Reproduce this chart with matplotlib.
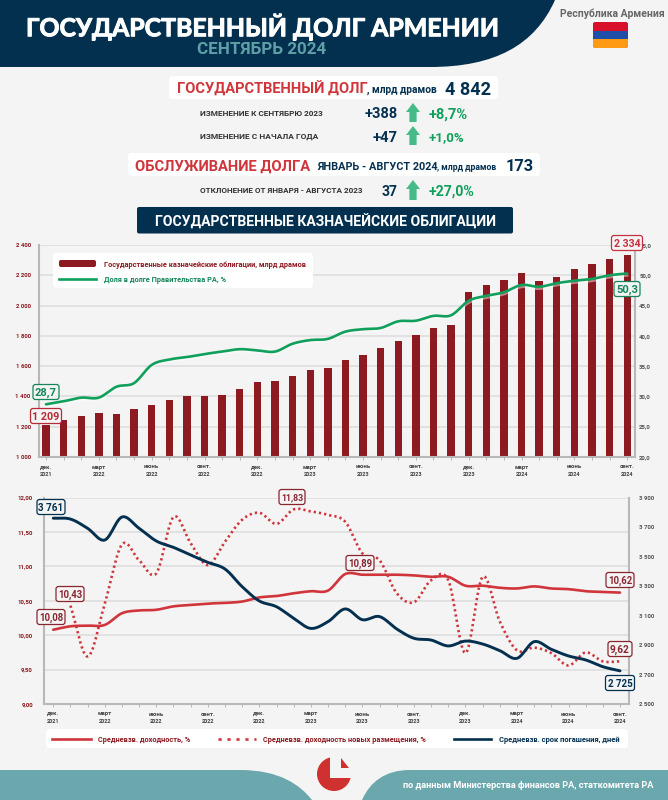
import numpy as np
import matplotlib
matplotlib.use('Agg')
import matplotlib.pyplot as plt
import matplotlib.patheffects as pe
from matplotlib.patches import FancyBboxPatch, Polygon, Rectangle, PathPatch, Circle
from matplotlib.path import Path
from matplotlib.textpath import TextPath
from matplotlib.font_manager import FontProperties, findfont

# ---------- data ----------
tick_years = ['2021', '2022', '2022', '2022', '2022', '2023', '2023', '2023', '2023', '2024', '2024', '2024']
tick_names = ['дек.', 'март', 'июнь', 'сент.', 'дек.', 'март', 'июнь', 'сент.', 'дек.', 'март', 'июнь', 'сент.']
bonds = [1209, 1242, 1271, 1289, 1282, 1315, 1346, 1379, 1401, 1406, 1412, 1450, 1492, 1500, 1538, 1575, 1591,
         1639, 1672, 1723, 1769, 1807, 1849, 1871, 2089, 2138, 2168, 2212, 2160, 2189, 2239, 2274, 2305, 2334]
share = [28.7, 29.2, 29.8, 29.8, 31.6, 32.2, 35.2, 36.1, 36.5, 37.0, 37.4, 37.8, 37.6, 37.4, 38.7, 39.3, 39.5,
         40.7, 41.1, 41.3, 42.4, 42.5, 43.3, 43.4, 45.8, 46.6, 47.2, 48.4, 48.1, 48.7, 49.1, 49.4, 50.0, 50.3]
yield_avg = [10.08, 10.13, 10.14, 10.15, 10.32, 10.36, 10.37, 10.42, 10.44, 10.46, 10.47, 10.49, 10.55, 10.57, 10.61,
             10.64, 10.65, 10.89, 10.88, 10.88, 10.88, 10.87, 10.85, 10.85, 10.72, 10.72, 10.69, 10.68, 10.71, 10.68,
             10.67, 10.64, 10.63, 10.62]
yield_new = [10.43, 9.69, 10.46, 11.32, 11.09, 10.90, 11.72, 11.34, 11.02, 11.36, 11.68, 11.78, 11.62, 11.83,
             11.80, 11.75, 11.65, 11.19, 11.09, 10.61, 10.48, 10.80, 10.80, 9.74, 10.85, 10.20, 9.78, 9.82, 9.74,
             9.56, 9.75, 9.62, 9.62]
maturity = [3761, 3755, 3692, 3613, 3769, 3692, 3606, 3563, 3511, 3461, 3416, 3296, 3199, 3160, 3081, 3013, 3059,
            3145, 3072, 3093, 3009, 2946, 2934, 2894, 2927, 2907, 2862, 2810, 2923, 2871, 2826, 2799, 2753, 2725]
left1 = ['1 000', '1 200', '1 400', '1 600', '1 800', '2 000', '2 200', '2 400']
right1 = ['20,0', '25,0', '30,0', '35,0', '40,0', '45,0', '50,0', '55,0']
left2 = ['9,00', '9,50', '10,00', '10,50', '11,00', '11,50', '12,00']
right2 = ['2 500', '2 700', '2 900', '3 100', '3 300', '3 500', '3 700', '3 900']

# ---------- style ----------
W, H = 668, 800
BG = '#f4f4f4'; NAVY = '#04304f'; RED = '#d0353b'; DRED = '#8c1a20'; GREEN = '#10a05c'
TEAL = '#6aa8ae'; ARROW = '#45bb87'; GRID = '#dcdcdc'; SPINE = '#b8b8b8'
FONT = 'Roboto'
try:
    findfont(FontProperties(family='Liberation Sans Narrow', weight='bold'), fallback_to_default=False)
    NARROW = 'Liberation Sans Narrow'
except Exception:
    NARROW = FONT
plt.rcParams['font.family'] = [FONT, 'DejaVu Sans']

fig = plt.figure(figsize=(W / 100, H / 100), dpi=100, facecolor=BG)


def place(x0, y0, x1, y1):
    return [x0 / W, 1 - y1 / H, (x1 - x0) / W, (y1 - y0) / H]


def smooth(x, y, n=14):
    x = np.asarray(x, float); y = np.asarray(y, float)
    px = np.r_[2 * x[0] - x[1], x, 2 * x[-1] - x[-2]]
    py = np.r_[2 * y[0] - y[1], y, 2 * y[-1] - y[-2]]
    t = np.linspace(0, 1, n, endpoint=False)[:, None]
    outx, outy = [], []
    for i in range(1, len(px) - 2):
        for p, out in ((px, outx), (py, outy)):
            a, b, c, d = p[i - 1], p[i], p[i + 1], p[i + 2]
            out.append((0.5 * (2 * b + (c - a) * t + (2 * a - 5 * b + 4 * c - d) * t ** 2
                               + (3 * b - a - 3 * c + d) * t ** 3)).ravel())
    return np.r_[np.concatenate(outx), x[-1]], np.r_[np.concatenate(outy), y[-1]]


def style_axes(ax, labels_left, lcolor):
    ax.patch.set_visible(False)
    ax.spines['top'].set_visible(False)
    for s in ('left', 'right', 'bottom'):
        ax.spines[s].set_color(SPINE); ax.spines[s].set_linewidth(1.5)
    ax.grid(axis='y', color=GRID, lw=1.1, zorder=0)
    ax.set_axisbelow(True)
    ax.tick_params(axis='y', length=0, labelsize=4.3, labelcolor=lcolor, pad=6)
    ax.set_yticklabels(labels_left, fontweight='bold')
    ax.set_xticks(range(34))
    ax.set_xticklabels([])
    ax.tick_params(axis='x', length=2, width=.7, color=SPINE)


# ---------- chart 1 ----------
x = np.arange(34)
ax1 = fig.add_axes(place(39, 245, 635, 457))
ax1.set_xlim(-0.397, 33.44)
ax1.set_ylim(1000, 2400)
ax1.set_yticks(np.arange(1000, 2401, 200))
style_axes(ax1, left1, DRED)
ax1.bar(x, bonds, width=0.42, color=DRED, zorder=2)
ax1r = ax1.twinx()
ax1r.set_ylim(20, 55)
ax1r.set_yticks(np.arange(20, 56, 5))
ax1r.set_yticklabels(right1, fontweight='bold')
ax1r.tick_params(axis='y', length=0, labelsize=4.3, labelcolor='#555555', pad=3)
for s in ax1r.spines.values():
    s.set_visible(False)
sx, sy = smooth(x, share)
ax1r.plot(sx, np.array(sy) - 0.35, color='#ffffff', alpha=.45, lw=1.6, zorder=3)
ax1r.plot(sx, sy, color=GREEN, lw=1.9, solid_capstyle='round', zorder=4)

# ---------- chart 2 ----------
ax2 = fig.add_axes(place(44, 497.7, 629.3, 704))
ax2.set_xlim(-0.54, 33.54)
ax2.set_ylim(9, 12)
ax2.set_yticks(np.arange(9, 12.01, .5))
style_axes(ax2, left2, DRED)
ax2.tick_params(axis='y', pad=8)
ax2.spines['right'].set_visible(False)
ax2r = ax2.twinx()
ax2r.set_ylim(2500, 3900)
ax2r.set_yticks(np.arange(2500, 3901, 200))
ax2r.set_yticklabels(right2, fontweight='bold')
ax2r.tick_params(axis='y', length=0, labelsize=4.3, labelcolor='#555555', pad=7)
for k, s in ax2r.spines.items():
    s.set_visible(k == 'right')
    s.set_color(SPINE); s.set_linewidth(1.5)
ax2.plot(*smooth(x, yield_avg), color=RED, lw=1.9, zorder=3, solid_capstyle='round')
ax2.plot(*smooth(x[1:], yield_new), color=RED, lw=1.9, ls=(0, (.85, 1.15)), zorder=3)
ax2r.plot(*smooth(x, maturity), color=NAVY, lw=2.1, zorder=4, solid_capstyle='round')

# ---------- overlay, in pixels ----------
ov = fig.add_axes([0, 0, 1, 1], zorder=20)
ov.set_xlim(0, W); ov.set_ylim(H, 0); ov.axis('off')


def fit(x0, x1, yc, s, color, weight='bold', family=FONT, ha='left', z=6, heavy=0):
    fp = FontProperties(family=family, weight=weight)
    w = TextPath((0, 0), s, size=10, prop=fp).get_extents().width * 100 / 72
    size = 10 * (x1 - x0) / w
    xp = x0 if ha == 'left' else (x0 + x1) / 2
    t = ov.text(xp, yc, s, color=color, fontsize=size, fontweight=weight, family=family, ha=ha,
                va='center_baseline', zorder=z)
    if heavy:
        t.set_path_effects([pe.withStroke(linewidth=heavy, foreground=color)])


def rbox(x0, y0, x1, y1, fc, ec='none', r=3, lw=0, z=2):
    p = FancyBboxPatch((x0, y0), x1 - x0, y1 - y0, boxstyle=f'round,pad=0,rounding_size={r}',
                       fc=fc, ec=ec, lw=lw, zorder=z)
    ov.add_patch(p)
    return p


def tag(xc, yc, s, color, w):
    rbox(xc - w / 2, yc - 7.5, xc + w / 2, yc + 7.5, BG, ec=color, r=2.5, lw=.9, z=8)
    fit(xc - w / 2 + 2.5, xc + w / 2 - 2.5, yc, s, color, family=FONT, ha='center', z=9)


def arrow(xc, y0, y1):
    ov.add_patch(Polygon([(xc, y0), (xc + 7, y0 + 9), (xc + 3.6, y0 + 9), (xc + 3.6, y1), (xc - 3.6, y1),
                          (xc - 3.6, y0 + 9), (xc - 7, y0 + 9)], closed=True, fc=ARROW, ec='none', zorder=4))


# header
hp = Path([(0, 0), (555, 0), (535, 45), (495, 67), (430, 67), (0, 67), (0, 0)],
          [Path.MOVETO, Path.LINETO, Path.CURVE4, Path.CURVE4, Path.CURVE4, Path.LINETO, Path.CLOSEPOLY])
ov.add_patch(PathPatch(hp, fc=NAVY, ec='none', zorder=1))
fit(26, 495, 25, 'ГОСУДАРСТВЕННЫЙ ДОЛГ АРМЕНИИ', 'white', family='Lato', weight='bold', heavy=.7)
fit(197, 325, 47.5, 'СЕНТЯБРЬ 2024', '#5f9fa8')
fit(560, 663, 12.5, 'Республика Армения', '#666666')
flag = rbox(593, 22, 628, 48, '#1f4fa8', r=2.5)
for y0, col in ((22, '#d9102a'), (39.3, '#ff9a14')):
    stripe = Rectangle((593, y0), 35, 8.7, fc=col, ec='none', zorder=3)
    ov.add_patch(stripe)
    stripe.set_clip_path(flag)

# summary
rbox(169, 76, 498, 99, 'white')
fit(177, 366, 88, 'ГОСУДАРСТВЕННЫЙ ДОЛГ', RED)
fit(367, 436, 89, ', млрд драмов', NAVY, family=NARROW)
fit(445, 490, 88, '4 842', NAVY)
fit(200, 324, 113, 'ИЗМЕНЕНИЕ К СЕНТЯБРЮ 2023', '#333333', family=NARROW)
fit(365, 397, 113, '+388', NAVY)
arrow(413, 103, 122)
fit(429, 467, 113, '+8,7%', GREEN)
fit(200, 319, 136, 'ИЗМЕНЕНИЕ С НАЧАЛА ГОДА', '#333333', family=NARROW)
fit(373, 397, 136, '+47', NAVY)
arrow(413, 126, 145)
fit(429, 464, 136, '+1,0%', GREEN)
rbox(128, 153, 540, 176, 'white')
fit(135, 310, 165, 'ОБСЛУЖИВАНИЕ ДОЛГА', RED)
fit(317, 437, 166, 'ЯНВАРЬ - АВГУСТ 2024', NAVY, family=NARROW)
fit(437, 496, 167, ', млрд драмов', NAVY, family=NARROW)
fit(506, 532, 165, '173', NAVY)
fit(200, 363, 190, 'ОТКЛОНЕНИЕ ОТ ЯНВАРЯ - АВГУСТА 2023', '#333333', family=NARROW)
fit(382, 397, 190, '37', NAVY)
arrow(413, 180, 200)
fit(429, 474, 190, '+27,0%', GREEN)
rbox(137, 207, 513, 233.5, NAVY, r=2)
fit(155, 495, 220.5, 'ГОСУДАРСТВЕННЫЕ КАЗНАЧЕЙСКИЕ ОБЛИГАЦИИ', 'white')

# x tick labels
for k, (nm, yr) in enumerate(zip(tick_names, tick_years)):
    px1 = 46 + 17.615 * 3 * k
    px2 = 53.3 + 17.17 * 3 * k
    ov.text(px1, 467, nm, fontsize=4.3, color='#444444', fontweight='bold', ha='center', va='center')
    ov.text(px1, 474, yr, fontsize=4.0, color='#444444', fontweight='bold', ha='center', va='center')
    ov.text(px2, 714, nm, fontsize=4.3, color='#444444', fontweight='bold', ha='center', va='center')
    ov.text(px2, 721.5, yr, fontsize=4.0, color='#444444', fontweight='bold', ha='center', va='center')

# value tags
tag(46, 392, '28,7', '#12875a', 26)
tag(46, 416, '1 209', '#b52b38', 31)
tag(627, 243, '2 334', '#c8323f', 31)
tag(627, 289, '50,3', '#12875a', 26)
tag(51, 507, '3 761', NAVY, 28)
tag(70, 594, '10,43', '#8a2530', 28)
tag(51, 617, '10,08', '#8a2530', 28)
tag(292, 497, '11,83', '#8a2530', 26)
tag(360, 563, '10,89', '#8a2530', 28)
tag(620, 580, '10,62', '#8a2530', 28)
tag(620, 649, '9,62', '#8a2530', 24)
tag(620, 683, '2 725', NAVY, 29)

# legend 1
rbox(53, 253, 313, 288, 'white', r=4, z=5)
rbox(59, 260, 96, 267, DRED, r=2, z=6)
ov.plot([59, 96], [279, 279], color=GREEN, lw=1.9, zorder=6)
fit(104, 307, 264, 'Государственные казначейские облигации, млрд драмов', DRED, family=NARROW)
fit(104, 226, 279, 'Доля в долге Правительства РА, %', '#12875a', family=NARROW)

# legend 2
rbox(46, 729, 628, 748, 'white', r=4, z=5)
ov.plot([52, 91], [738.5, 738.5], color=RED, lw=1.9, zorder=6)
ov.plot([218, 256], [738.5, 738.5], color=RED, lw=1.9, ls=(0, (1.2, 2.2)), zorder=6)
ov.plot([454, 491], [738.5, 738.5], color=NAVY, lw=1.9, zorder=6)
fit(98, 190, 739, 'Средневзв. доходность, %', DRED, family=NARROW)
fit(263, 427, 739, 'Средневзв. доходность новых размещения, %', DRED, family=NARROW)
fit(499, 619, 739, 'Средневзв. срок погашения, дней', NAVY, family=NARROW)

# footer
lp = Path([(0, 770), (240, 770), (280, 770), (300, 785), (312, 800), (0, 800), (0, 770)],
          [Path.MOVETO, Path.LINETO, Path.CURVE4, Path.CURVE4, Path.CURVE4, Path.LINETO, Path.CLOSEPOLY])
rp = Path([(362, 800), (370, 782), (385, 770), (410, 770), (668, 770), (668, 800), (362, 800)],
          [Path.MOVETO, Path.CURVE4, Path.CURVE4, Path.CURVE4, Path.LINETO, Path.LINETO, Path.CLOSEPOLY])
ov.add_patch(PathPatch(lp, fc=TEAL, ec='none', zorder=1))
ov.add_patch(PathPatch(rp, fc=TEAL, ec='none', zorder=1))
ov.add_patch(Circle((334, 774), 17, fc='#cf3030', ec='none', zorder=3))
ov.add_patch(Rectangle((330, 750), 25, 28, fc=BG, ec='none', zorder=4))
ov.add_patch(Polygon([(341, 758), (349, 768), (341, 768)], closed=True, fc='#cf3030', ec='none', zorder=5))
fit(403, 652, 785, 'по данным Министерства финансов РА, статкомитета РА', 'white', family=NARROW)

fig.savefig('out.png', dpi=100, facecolor=BG)
